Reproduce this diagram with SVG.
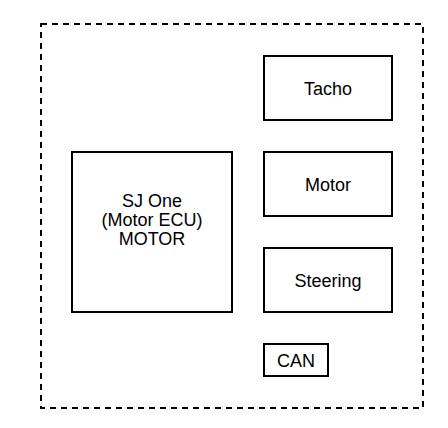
<svg xmlns="http://www.w3.org/2000/svg" width="448" height="428" viewBox="0 0 448 428">
<style>
.box{fill:#fff;stroke:#000;stroke-width:2}
.lbl{font-family:"Liberation Sans",Arial,sans-serif;font-size:18px;fill:#000;text-anchor:middle}
</style>
<rect width="448" height="428" fill="#fff"/>
<g id="frame">
<rect x="41" y="24" width="382" height="384" fill="none" stroke="#000" stroke-width="2" stroke-dasharray="6 5"/>
</g>
<g id="connectors"></g>
<g id="sjone">
<rect class="box" x="72" y="152" width="160" height="160"/>
<text class="lbl" x="152" y="207">SJ One</text>
<text class="lbl" x="152" y="226">(Motor ECU)</text>
<text class="lbl" x="152" y="245">MOTOR</text>
</g>
<g id="tacho">
<rect class="box" x="264" y="56" width="128" height="64"/>
<text class="lbl" x="328" y="95">Tacho</text>
</g>
<g id="motor">
<rect class="box" x="264" y="152" width="128" height="64"/>
<text class="lbl" x="328" y="191">Motor</text>
</g>
<g id="steering">
<rect class="box" x="264" y="248" width="128" height="64"/>
<text class="lbl" x="328" y="287">Steering</text>
</g>
<g id="can">
<rect class="box" x="264" y="344" width="64" height="32"/>
<text class="lbl" x="296" y="367">CAN</text>
</g>
</svg>
